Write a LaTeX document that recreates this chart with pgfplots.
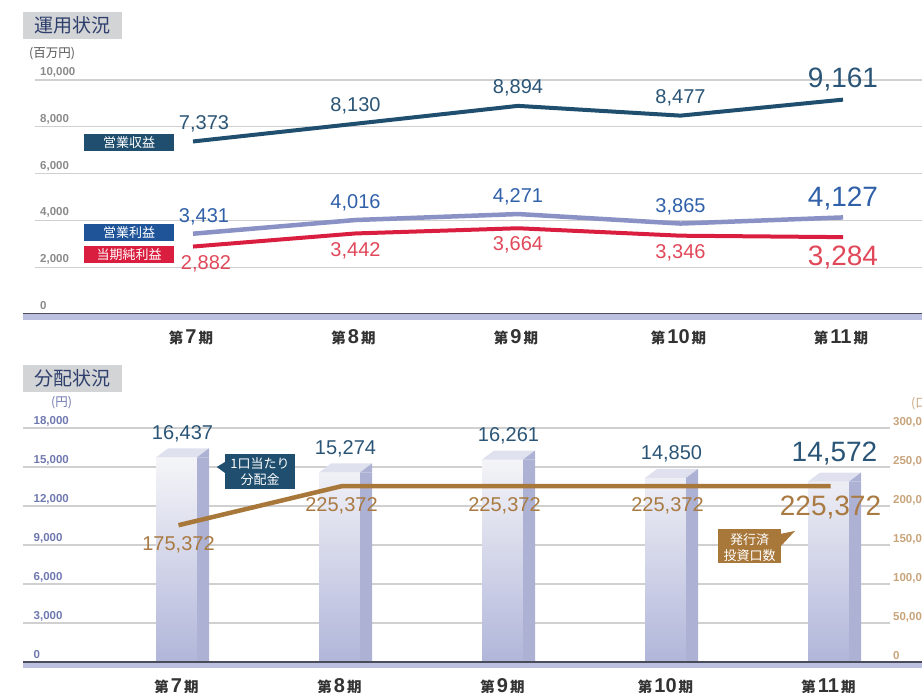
\documentclass[border=0pt]{standalone}
\usepackage{pgfplots}
\usepackage{pgfplotstable}
\pgfplotsset{compat=1.18}
\usepackage{fontspec}
\setmainfont{Liberation Sans}
\newfontfamily\jp{Noto Sans CJK JP}

\definecolor{navy}{HTML}{1F4E6E}
\definecolor{navytxt}{HTML}{2B5576}
\definecolor{lav}{HTML}{8A91C5}
\definecolor{bluetxt}{HTML}{2F60A8}
\definecolor{bluebox}{HTML}{1F5499}
\definecolor{red1}{HTML}{D91E3F}
\definecolor{redtxt}{HTML}{E04859}
\definecolor{brown1}{HTML}{A8773A}
\definecolor{browntxt}{HTML}{A97A42}
\definecolor{gridc}{HTML}{D0D0D0}
\definecolor{tickgray}{HTML}{8A8A8A}
\definecolor{tickblue}{HTML}{6F78AF}
\definecolor{ticktan}{HTML}{C8A47B}
\definecolor{band}{HTML}{BCC0E0}
\definecolor{basec}{HTML}{4A4C5A}
\definecolor{titlebg}{HTML}{D3D4D6}
\definecolor{titletxt}{HTML}{2E3F6D}
\definecolor{unitgray}{HTML}{555555}
\definecolor{bartopc}{HTML}{DFE1EF}
\definecolor{barside}{HTML}{ADB2D4}
\definecolor{barlight}{HTML}{F5F5F8}
\definecolor{bardark}{HTML}{B1B6DA}
\definecolor{cattxt}{HTML}{333333}

\pgfkeys{/pgf/number format/.cd, fixed, precision=0, 1000 sep={,}, assume math mode=true}

% top face and slanted part of the side face of a bar
\pgfdeclareplotmark{prismtop}{%
  \pgfsetfillcolor{bartopc}%
  \pgfpathmoveto{\pgfqpoint{-22.5pt}{0pt}}%
  \pgfpathlineto{\pgfqpoint{18.5pt}{0pt}}%
  \pgfpathlineto{\pgfqpoint{30.5pt}{9pt}}%
  \pgfpathlineto{\pgfqpoint{-10.5pt}{9pt}}%
  \pgfpathclose\pgfusepathqfill
  \pgfsetfillcolor{barside}%
  \pgfpathmoveto{\pgfqpoint{18.5pt}{0pt}}%
  \pgfpathlineto{\pgfqpoint{30.5pt}{9pt}}%
  \pgfpathlineto{\pgfqpoint{30.5pt}{0pt}}%
  \pgfpathclose\pgfusepathqfill}

\newcommand\ki[1]{{\jp\bfseries\fontsize{14.5}{14.5}\selectfont 第}\kern2pt{\bfseries\fontsize{20}{20}\selectfont #1}\kern2pt{\jp\bfseries\fontsize{14.5}{14.5}\selectfont 期}}

\pgfplotstableread{
x rev oprofit net
0 7373 3431 2882
1 8130 4016 3442
2 8894 4271 3664
3 8477 3865 3346
4 9161 4127 3284
}\unyou

\pgfplotstableread{
x dist units
0 16437 175372
1 15274 225372
2 16261 225372
3 14850 225372
4 14572 225372
}\bunpai

\tikzset{
  tickfont/.style={font=\bfseries\fontsize{11.5}{11.5}\selectfont},
  valfont/.style={font=\fontsize{20}{20}\selectfont},
  bigfont/.style={font=\fontsize{28}{28}\selectfont},
}
\pgfplotsset{
  bottomgeo/.style={at={(23pt,31pt)}, anchor=south west, scale only axis,
    width=867pt, height=234pt, xmin=-0.954, xmax=4.365},
  lastbig/.style={
    coordinate style/.condition={x<4}{valfont},
    coordinate style/.condition={x==4}{bigfont, yshift=#1}},
}

\begin{document}
\begin{tikzpicture}[x=1pt,y=1pt]
\path[use as bounding box] (0,0) rectangle (922,693);

% ---------- 運用状況 ----------
\fill[titlebg] (23,654) rectangle (122,681);
\node[text=titletxt, font=\jp\fontsize{19}{19}\selectfont] at (72.5,667.5) {運用状況};
\node[text=unitgray, font=\jp\fontsize{12.5}{13}\selectfont] at (52,639.5) {(百万円)};

\begin{axis}[
  at={(35pt,379pt)}, anchor=south west, scale only axis, width=887pt, height=234pt,
  xmin=-0.9723, xmax=4.486, ymin=0, ymax=10000,
  xtick={0,1,2,3,4}, xticklabels={\ki{7},\ki{8},\ki{9},\ki{10},\ki{11}},
  ytick={0,2000,4000,6000,8000,10000},
  ymajorgrids, grid style={gridc, line width=1.3pt},
  axis line style={draw=none}, major tick length=0pt, scaled y ticks=false,
  yticklabel style={tickfont, text=tickgray, anchor=base west, inner sep=0pt, xshift=5pt, yshift=4.5pt},
  xticklabel style={anchor=center, yshift=-23.5pt, xshift=-2pt, text=cattxt},
  clip=false,
]
\addplot[red1, line width=4pt, nodes near coords,
  every node near coord/.append style={text=redtxt, anchor=center, yshift=-17pt},
  coordinate style/.condition={x==0}{xshift=13pt}, lastbig=-3pt]
  table[x=x, y=net] {\unyou};
\addplot[lav, line width=4.5pt, nodes near coords,
  every node near coord/.append style={text=bluetxt, anchor=center, yshift=17pt},
  coordinate style/.condition={x==0}{xshift=11pt}, lastbig=2pt]
  table[x=x, y=oprofit] {\unyou};
\addplot[navy, line width=4pt, nodes near coords,
  every node near coord/.append style={text=navytxt, anchor=center, yshift=18pt},
  coordinate style/.condition={x==0}{xshift=11pt}, lastbig=2pt]
  table[x=x, y=rev] {\unyou};
\end{axis}

\fill[band] (23,373) rectangle (922,379);
\draw[basec, line width=1pt] (23,379) -- (922,379);

\fill[navy] (84,542) rectangle (174,559);
\node[text=white, font=\jp\fontsize{13}{13}\selectfont] at (129,550.5) {営業収益};
\fill[bluebox] (84,452) rectangle (174,469);
\node[text=white, font=\jp\fontsize{13}{13}\selectfont] at (129,460.5) {営業利益};
\fill[red1] (84,430.3) rectangle (174,447);
\node[text=white, font=\jp\fontsize{13}{13}\selectfont] at (129,438.6) {当期純利益};

% ---------- 分配状況 ----------
\fill[titlebg] (23,301.3) rectangle (122,328);
\node[text=titletxt, font=\jp\fontsize{19}{19}\selectfont] at (72.5,314.7) {分配状況};
\node[text=tickblue, font=\jp\fontsize{12.5}{13}\selectfont] at (61.5,290) {(円)};
\node[text=ticktan, font=\jp\fontsize{12.5}{13}\selectfont, anchor=west, inner sep=0pt] at (911,290) {(口数)};

\begin{axis}[
  bottomgeo, ymin=0, ymax=18000,
  ytick={0,3000,6000,9000,12000,15000,18000},
  ymajorgrids, grid style={gridc, line width=1.3pt},
  axis line style={draw=none}, major tick length=0pt, scaled y ticks=false,
  yticklabel style={tickfont, text=tickblue, anchor=base west, inner sep=0pt, xshift=10.5pt, yshift=3pt},
  xtick={0,1,2,3,4}, xticklabels={\ki{7},\ki{8},\ki{9},\ki{10},\ki{11}},
  xticklabel style={anchor=center, yshift=-24pt, xshift=-2pt, text=cattxt},
]
\end{axis}

% bars: same scale, front tops sit 9pt below the value (the back edge of the top face)
\begin{axis}[bottomgeo, ymin=692.3, ymax=18692.3, hide axis]
\addplot[ybar, bar width=41pt, bar shift=-2pt, draw=none,
  top color=barlight, bottom color=bardark] table[x=x, y=dist] {\bunpai};
\addplot[ybar, bar width=12pt, bar shift=24.5pt, draw=none, fill=barside]
  table[x=x, y=dist] {\bunpai};
\addplot[only marks, mark=prismtop, nodes near coords,
  every node near coord/.append style={text=navytxt, anchor=center, xshift=4pt, yshift=24pt},
  lastbig=4pt]
  table[x=x, y=dist] {\bunpai};
\end{axis}

\begin{axis}[
  bottomgeo, ymin=0, ymax=300000,
  axis x line=none, axis y line*=right, axis line style={draw=none},
  major tick length=0pt, scaled y ticks=false,
  ytick={0,50000,100000,150000,200000,250000,300000},
  yticklabel style={tickfont, text=ticktan, anchor=base west, inner sep=0pt, xshift=3pt, yshift=2.5pt},
  clip=false,
]
\addplot[brown1, line width=4.5pt, nodes near coords,
  every node near coord/.append style={text=browntxt, anchor=center, yshift=-20pt},
  lastbig=-1pt]
  table[x=x, y=units] {\bunpai};
\end{axis}

\fill[band] (23,25) rectangle (922,31);
\draw[basec, line width=1.5pt] (23,31) -- (922,31);

\fill[navy] (225,204) rectangle (295,239);
\fill[navy] (225.5,231.3) -- (216.7,226) -- (225.5,219.7) -- cycle;
\node[text=white, font=\jp\fontsize{13}{16}\selectfont, align=center] at (260,221.5) {1口当たり\\分配金};

\fill[brown1] (718,130) rectangle (781,164);
\fill[brown1] (780,159) -- (795,162) -- (780,146) -- cycle;
\node[text=white, font=\jp\fontsize{13}{16}\selectfont, align=center] at (749.5,145.5) {発行済\\投資口数};

\end{tikzpicture}
\end{document}
